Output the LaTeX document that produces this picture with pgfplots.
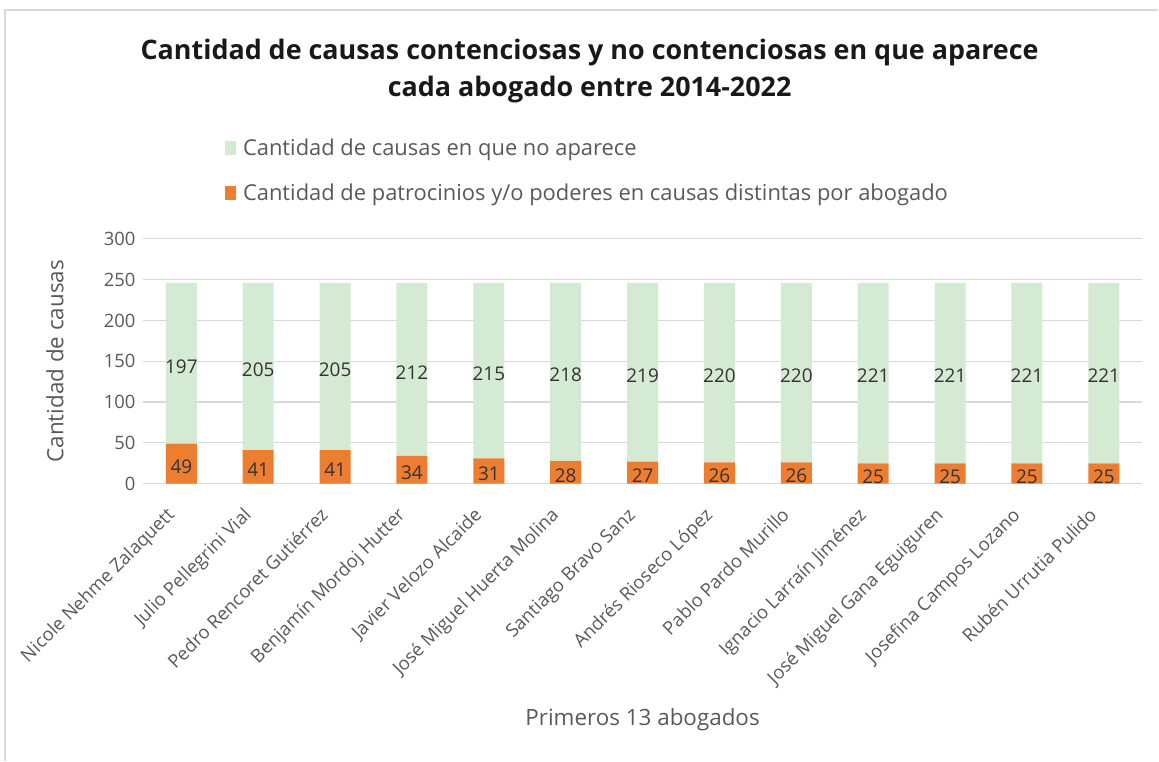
\documentclass[border=0pt]{standalone}
\usepackage{pgfplots}
\pgfplotsset{compat=1.18}
\usepackage{pgfplotstable}
\usepackage{fontspec}
\setmainfont{Open Sans}
\definecolor{cgreen}{HTML}{D5EAD2}
\definecolor{corange}{HTML}{ED7D31}
\definecolor{ctext}{HTML}{595959}
\definecolor{cgrid}{HTML}{D9D9D9}
\pgfplotstableread{
x o g
0 49 197
1 41 205
2 41 205
3 34 212
4 31 215
5 28 218
6 27 219
7 26 220
8 26 220
9 25 221
10 25 221
11 25 221
12 25 221
}\datatable
\begin{document}
\begin{tikzpicture}
\path (0,0) rectangle (1159bp,761bp);
\draw[cgrid, line width=1.5bp] (5bp,0bp) -- (5bp,751bp) -- (1159bp,751bp);
\node[font=\bfseries\fontsize{27}{38}\selectfont, align=center, text=black!90] at (590bp,690bp)
  {Cantidad de causas contenciosas y no contenciosas en que aparece\\cada abogado entre 2014-2022};
\begin{axis}[
  at={(143bp,277bp)}, anchor=south west,
  scale only axis, width=1000bp, height=245bp,
  ybar stacked, bar width=31bp,
  xmin=-0.5, xmax=12.5, ymin=0, ymax=300,
  ytick={0,50,...,300},
  xtick=data,
  xticklabels={Nicole Nehme Zalaquett, Julio Pellegrini Vial, Pedro Rencoret Gutiérrez, Benjamín Mordoj Hutter, Javier Velozo Alcaide, José Miguel Huerta Molina, Santiago Bravo Sanz, Andrés Rioseco López, Pablo Pardo Murillo, Ignacio Larraín Jiménez, José Miguel Gana Eguiguren, Josefina Campos Lozano, Rubén Urrutia Pulido},
  x tick label style={xshift=-16bp, yshift=-21bp, rotate=45, anchor=north east, inner sep=1bp, font=\fontsize{18.5}{22}\selectfont, text=ctext},
  y tick label style={font=\fontsize{18.5}{22}\selectfont, text=ctext},
  /pgf/number format/assume math mode=true,
  axis line style={draw=none},
  tick style={draw=none},
  ymajorgrids, major grid style={cgrid, line width=1.2bp},
  yticklabel style={xshift=-4bp},
  ylabel={Cantidad de causas},
  ylabel style={at={(axis description cs:-0.088,0.5)}, anchor=center, font=\fontsize{22.5}{26}\selectfont, text=ctext},
  xlabel={Primeros 13 abogados},
  xlabel style={at={(axis description cs:0.5,-0.963)}, anchor=center, font=\fontsize{22.5}{26}\selectfont, text=ctext},
  legend style={at={(axis description cs:0.082,1.418)}, anchor=north west, draw=none, fill=none,
    font=\fontsize{22}{26}\selectfont, text=ctext, row sep=23bp, legend cell align=left, inner sep=0pt,
    nodes={inner sep=2bp}},
  reverse legend,
  legend image code/.code={\path (0bp,0bp) -- (16bp,0bp); \fill[#1] (0bp,-7bp) rectangle (11bp,7bp);},
  nodes near coords={\pgfmathprintnumber{\rawv}},
  every node near coord/.append style={anchor=center, font=\fontsize{19}{22}\selectfont, text=black!80, yshift=-3bp},
]
\addplot[fill=corange, draw=none, visualization depends on={\thisrow{o}\as\rawv}] table[x=x, y=o] {\datatable};
\addplot[fill=cgreen, draw=none, visualization depends on={\thisrow{g}\as\rawv}] table[x=x, y=g] {\datatable};
\legend{Cantidad de patrocinios y/o poderes en causas distintas por abogado, Cantidad de causas en que no aparece}
\end{axis}
\end{tikzpicture}
\end{document}
